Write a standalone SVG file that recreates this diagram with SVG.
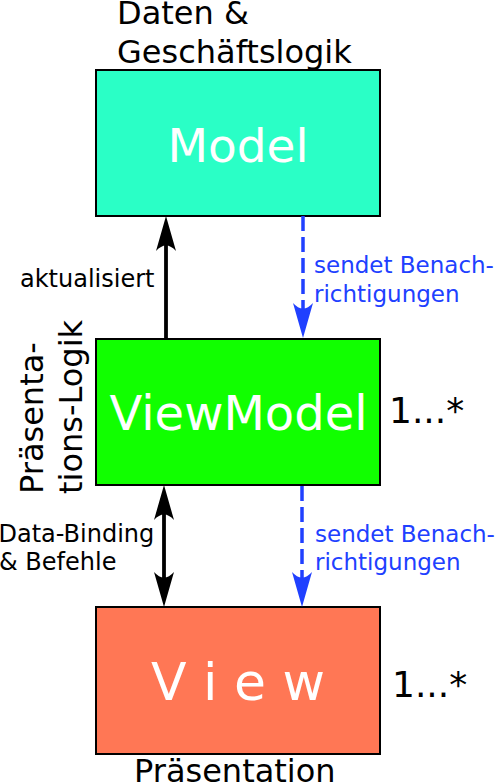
<svg xmlns="http://www.w3.org/2000/svg" width="502" height="783" viewBox="0 0 502 783">
  <style>
    text { font-family: "DejaVu Sans", "Liberation Sans", sans-serif; }
    .box { stroke: #000; stroke-width: 2; }
    .big { fill: #fff; font-size: 50px; text-anchor: middle; }
    .lbl { fill: #000; font-size: 32px; }
    .mult { fill: #000; font-size: 36px; }
    .conn { fill: #000; font-size: 24px; }
    .note { fill: #2040ff; font-size: 23px; }
    .solid { fill: none; stroke: #000; stroke-width: 3.8; }
    .dash { fill: none; stroke: #2040ff; stroke-width: 3.5; stroke-dasharray: 15 6; }
  </style>
  <defs>
    <marker id="ab" markerUnits="userSpaceOnUse" markerWidth="40" markerHeight="24" viewBox="-8 -12 40 24" refX="0" refY="0" orient="auto-start-reverse" overflow="visible">
      <path d="M28,0 L-7,-10 Q4,0 -7,10 Z" fill="#000"/>
    </marker>
    <marker id="ablue" markerUnits="userSpaceOnUse" markerWidth="40" markerHeight="24" viewBox="-8 -12 40 24" refX="0" refY="0" orient="auto" overflow="visible">
      <path d="M28,0 L-7,-10 Q4,0 -7,10 Z" fill="#2040ff"/>
    </marker>
  </defs>

  <g id="labels">
    <text class="lbl" x="117" y="24">Daten &amp;</text>
    <text class="lbl" x="117" y="63">Geschäftslogik</text>
    <text class="lbl" transform="translate(43,494) rotate(-90)" x="0" y="0">Präsenta-</text>
    <text class="lbl" transform="translate(82,494) rotate(-90)" x="0" y="0">tions-Logik</text>
    <text class="lbl" x="134" y="782">Präsentation</text>
  </g>

  <g id="model">
    <rect class="box" x="96" y="70" width="284" height="146" fill="#2affc6"/>
    <text class="big" x="238" y="162" style="font-size:47px">Model</text>
  </g>

  <g id="viewmodel">
    <rect class="box" x="96" y="339" width="284" height="146" fill="#11ff00"/>
    <text class="big" x="238.5" y="430" style="font-size:48px">ViewModel</text>
    <text class="mult" x="389" y="423">1...*</text>
  </g>

  <g id="view">
    <rect class="box" x="96" y="607" width="284" height="147" fill="#ff7755"/>
    <text class="big" x="238" y="700" style="font-size:52px">V i e w</text>
    <text class="mult" x="392" y="697">1...*</text>
  </g>

  <g id="connectors">
    <path class="solid" d="M166,339 L166,244" marker-end="url(#ab)"/>
    <path class="dash" d="M303,216 L303,310" marker-end="url(#ablue)"/>
    <path class="solid" d="M164,513 L164,579" marker-start="url(#ab)" marker-end="url(#ab)"/>
    <path class="dash" d="M302,486 L302,579" marker-end="url(#ablue)"/>
    <text class="conn" x="20" y="287">aktualisiert</text>
    <text class="note" x="314" y="273">sendet Benach-</text>
    <text class="note" x="314" y="302">richtigungen</text>
    <text class="conn" x="-1.5" y="542">Data-Binding</text>
    <text class="conn" x="-1" y="570">&amp; Befehle</text>
    <text class="note" x="315" y="542">sendet Benach-</text>
    <text class="note" x="315" y="570">richtigungen</text>
  </g>
</svg>
